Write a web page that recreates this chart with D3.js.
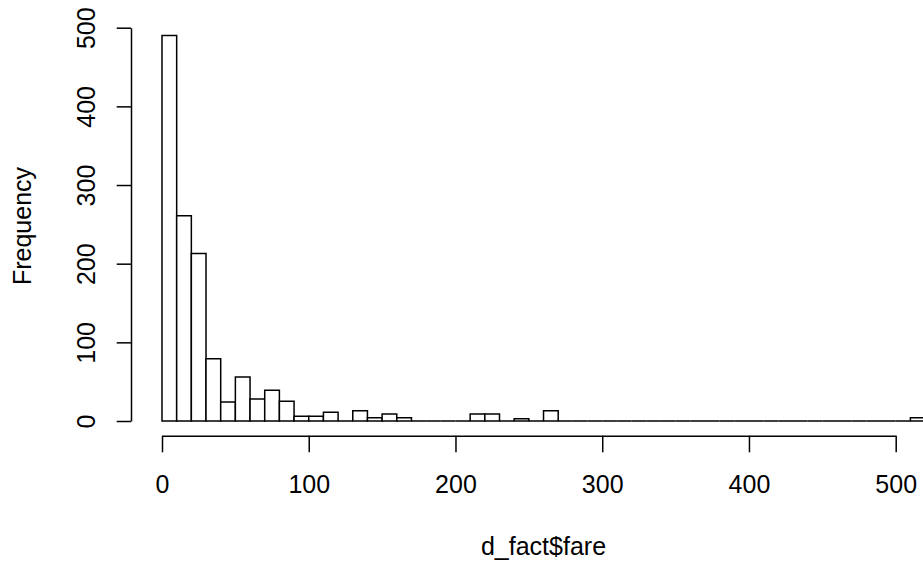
<!DOCTYPE html>
<html>
<head>
<meta charset="utf-8">
<script src="https://cdn.jsdelivr.net/npm/d3@7"></script>
<style>
  body { margin: 0; background: #fff; }
  text { font-family: "Liberation Sans", Arial, sans-serif; fill: #000; }
</style>
</head>
<body>
<div id="hist"></div>
<script>
// fare histogram, bins of width 10 from 0 to 520
var binWidth = 10;
var counts = [490, 261, 213, 79, 24, 56, 28, 39, 25, 6,
              6, 11, 0, 13, 4, 9, 4, 0, 0, 0,
              0, 9, 9, 0, 3, 0, 13, 0, 0, 0,
              0, 0, 0, 0, 0, 0, 0, 0, 0, 0,
              0, 0, 0, 0, 0, 0, 0, 0, 0, 0,
              0, 4];
var xTicks = [0, 100, 200, 300, 400, 500];
var yTicks = [0, 100, 200, 300, 400, 500];
var xTitle = "d_fact$fare";
var yTitle = "Frequency";

var svgWidth = 923;
var svgHeight = 561;

var svg = d3.select("#hist")
  .append("svg")
  .attr("width", svgWidth)
  .attr("height", svgHeight);

// scales (pixel ranges)
var x = d3.scaleLinear().domain([0, 500]).range([162, 895.7]);
var y = d3.scaleLinear().domain([0, 500]).range([421, 27.7]);

var bins = counts.map(function(c, i) {
  return { x0: i * binWidth, x1: (i + 1) * binWidth, n: c };
});

// bars as paths so empty bins still show up as a flat line
svg.append("g")
  .selectAll("path")
  .data(bins)
  .enter()
  .append("path")
  .attr("d", function(d) {
    return "M" + x(d.x0) + "," + y(0) + "V" + y(d.n) + "H" + x(d.x1) + "V" + y(0) + "Z";
  })
  .attr("fill", "#fff")
  .attr("stroke", "#000")
  .attr("stroke-width", 1.5);

// x axis
var xAxis = svg.append("g")
  .attr("transform", "translate(0, 435.7)")
  .call(d3.axisBottom(x).tickValues(xTicks).tickSize(16.6).tickSizeOuter(0));

xAxis.selectAll("text")
  .attr("y", 57.3)
  .attr("dy", null)
  .style("font-size", "25px");

// y axis
var yAxis = svg.append("g")
  .attr("transform", "translate(131, 0)")
  .call(d3.axisLeft(y).tickValues(yTicks).tickSize(14.3).tickSizeOuter(0));

yAxis.selectAll("text")
  .attr("x", null)
  .attr("dy", null)
  .attr("transform", "translate(-36, 0) rotate(-90)")
  .attr("text-anchor", "middle")
  .style("font-size", "25px");

svg.selectAll(".domain, .tick line")
  .attr("stroke", "#000")
  .attr("stroke-width", 1.5);

// axis titles
svg.append("text")
  .attr("x", 543.5)
  .attr("y", 555)
  .attr("text-anchor", "middle")
  .style("font-size", "25px")
  .text(xTitle);

svg.append("text")
  .attr("transform", "translate(31, 226) rotate(-90)")
  .attr("text-anchor", "middle")
  .style("font-size", "25px")
  .text(yTitle);
</script>
</body>
</html>
